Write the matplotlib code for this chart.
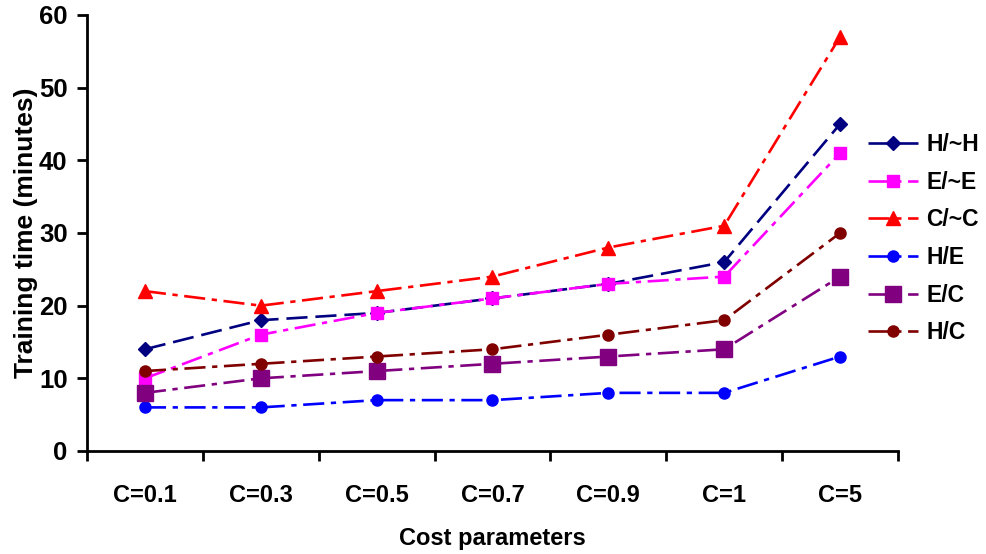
import matplotlib
matplotlib.use("Agg")
import matplotlib.pyplot as plt
import numpy as np

plt.rcParams['font.family'] = ['Liberation Sans', 'DejaVu Sans']
plt.rcParams['font.weight'] = 'bold'

cost_labels = ["C=0.1", "C=0.3", "C=0.5", "C=0.7", "C=0.9", "C=1", "C=5"]

h_not_h = [14, 18, 19, 21, 23, 26, 45]
e_not_e = [10, 16, 19, 21, 23, 24, 41]
c_not_c = [22, 20, 22, 24, 28, 31, 57]
h_e = [6, 6, 7, 7, 8, 8, 13]
e_c = [8, 10, 11, 12, 13, 14, 24]
h_c = [11, 12, 13, 14, 16, 18, 30]

series = [
    ("H/~H", h_not_h, "#000080", "D", 7.5, (8, 3)),
    ("E/~E", e_not_e, "#FF00FF", "s", 9, (8, 2.5, 2, 2.5)),
    ("C/~C", c_not_c, "#FF0000", "^", 10, (8, 2.5, 2, 2.5)),
    ("H/E", h_e, "#0000FF", "o", 8, (8, 2.5, 2, 2.5)),
    ("E/C", e_c, "#800080", "s", 12, (8, 2.5, 2, 2.5)),
    ("H/C", h_c, "#800000", "o", 8, (8, 2.5, 2, 2.5)),
]

fs = 17

fig = plt.figure(figsize=(9.87, 5.54), dpi=100)
ax = fig.add_axes([87 / 987, 103 / 554, (898 - 87) / 987, (451 - 15) / 554])

x = np.arange(len(cost_labels))
for name, vals, color, marker, ms, dash in series:
    ax.plot(x, vals, color=color, marker=marker, markersize=ms,
            linewidth=1.9, dashes=dash, label=name,
            markeredgecolor=color, markerfacecolor=color)

ax.set_xlim(-0.5, len(cost_labels) - 0.5)
ax.set_ylim(0, 60)
ax.set_yticks(range(0, 61, 10))
ax.set_xticks(x)
ax.set_xticklabels(cost_labels)
ax.set_xticks(np.arange(-0.5, len(cost_labels)), minor=True)
ax.tick_params(axis='x', which='major', length=0, pad=24, labelsize=fs)
ax.tick_params(axis='x', which='minor', length=7, width=2)
ax.tick_params(axis='y', length=7, width=2, labelsize=18.5, pad=7)

for side in ['top', 'right']:
    ax.spines[side].set_visible(False)
for side in ['left', 'bottom']:
    ax.spines[side].set_linewidth(2)

ax.set_xlabel("Cost parameters", fontsize=fs, fontweight='bold', labelpad=14)
ax.set_ylabel("Training time (minutes)", fontsize=19, fontweight='bold', labelpad=1)

fig.legend(loc='upper left', bbox_to_anchor=(868 / 987, 1 - 133 / 554),
           frameon=False, fontsize=16.5, handlelength=2.2, labelspacing=0.64,
           handletextpad=0.35, borderaxespad=0, borderpad=0)

fig.savefig("out.png", dpi=100)
